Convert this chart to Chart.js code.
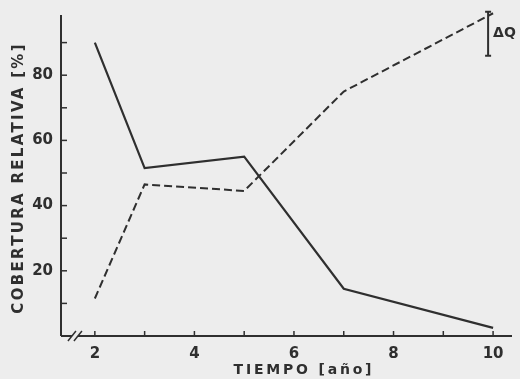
<!DOCTYPE html>
<html>
<head>
<meta charset="utf-8">
<script src="https://cdn.jsdelivr.net/npm/chart.js@4"></script>
<style>
  html, body { margin: 0; padding: 0; background: #ededed; }
  #wrap { width: 520px; height: 379px; position: relative; }
</style>
</head>
<body>
<div id="wrap"><canvas id="chart"></canvas></div>
<script>
const years = [2, 3, 5, 7, 10];
const solidSeries = [90, 51.5, 55, 14.5, 2.5];
const dashedSeries = [11.5, 46.5, 44.5, 75, 99];
const xTicks = [2, 3, 4, 5, 6, 7, 8, 9, 10];
const xTickLabels = ['2', '', '4', '', '6', '', '8', '', '10'];
const yTicks = [10, 20, 30, 40, 50, 60, 70, 80, 90];
const yTickLabels = ['', '20', '', '40', '', '60', '', '80', ''];
const deltaQ = [86, 99.5];
const deltaQLabel = 'ΔQ';
const xTitle = 'TIEMPO [año]';
const yTitle = 'COBERTURA RELATIVA [%]';

const ink = '#2f2f2f';
const bg = '#ededed';

const toPoints = (ys) => years.map((x, i) => ({ x: x, y: ys[i] }));

// axes, inner tick marks, axis break, ΔQ bracket and the spaced axis titles
const axisPlugin = {
  id: 'axisPlugin',
  afterDraw(chart) {
    const ctx = chart.ctx;
    const xs = chart.scales.x;
    const ys = chart.scales.y;
    const left = chart.chartArea.left;
    const bottom = ys.getPixelForValue(0);
    ctx.save();
    ctx.strokeStyle = ink;
    ctx.lineWidth = 2;
    ctx.setLineDash([]);
    // y axis
    ctx.beginPath();
    ctx.moveTo(left, bottom);
    ctx.lineTo(left, ys.getPixelForValue(98.5));
    ctx.stroke();
    // x axis
    ctx.beginPath();
    ctx.moveTo(left, bottom);
    ctx.lineTo(chart.chartArea.right, bottom);
    ctx.stroke();
    // y ticks (inside)
    ctx.lineWidth = 1.5;
    yTicks.forEach(v => {
      const py = ys.getPixelForValue(v);
      ctx.beginPath();
      ctx.moveTo(left, py);
      ctx.lineTo(left + 6, py);
      ctx.stroke();
    });
    // x ticks (inside)
    xTicks.forEach(v => {
      const px = xs.getPixelForValue(v);
      ctx.beginPath();
      ctx.moveTo(px, bottom);
      ctx.lineTo(px, bottom - 5);
      ctx.stroke();
    });
    // axis break
    const bx = xs.getPixelForValue(1.6);
    ctx.fillStyle = bg;
    ctx.fillRect(bx - 3, bottom - 2, 6, 4);
    ctx.lineWidth = 1.5;
    [-3, 3].forEach(d => {
      ctx.beginPath();
      ctx.moveTo(bx + d - 4, bottom + 5);
      ctx.lineTo(bx + d + 4, bottom - 5);
      ctx.stroke();
    });
    // ΔQ bracket
    const qx = xs.getPixelForValue(9.9);
    const q1 = ys.getPixelForValue(deltaQ[1]);
    const q0 = ys.getPixelForValue(deltaQ[0]);
    ctx.lineWidth = 2;
    ctx.beginPath();
    ctx.moveTo(qx, q1); ctx.lineTo(qx, q0);
    ctx.moveTo(qx - 3, q1); ctx.lineTo(qx + 3, q1);
    ctx.moveTo(qx - 3, q0); ctx.lineTo(qx + 3, q0);
    ctx.stroke();
    ctx.fillStyle = ink;
    ctx.font = 'bold 14px "DejaVu Sans"';
    ctx.textAlign = 'left';
    ctx.textBaseline = 'middle';
    ctx.fillText(deltaQLabel, qx + 5, (q0 + q1) / 2);
    // x title
    ctx.letterSpacing = '2.8px';
    ctx.textAlign = 'center';
    ctx.font = 'bold 14px "DejaVu Sans"';
    ctx.fillText(xTitle, xs.getPixelForValue(6.2), 370);
    // y title
    ctx.letterSpacing = '2.3px';
    ctx.font = 'bold 15px "DejaVu Sans"';
    ctx.translate(19, ys.getPixelForValue(48.5));
    ctx.rotate(-Math.PI / 2);
    ctx.fillText(yTitle, 0, 0);
    ctx.restore();
  }
};

new Chart(document.getElementById('chart'), {
  type: 'line',
  data: {
    datasets: [{
      label: 'continua',
      data: toPoints(solidSeries),
      borderColor: ink,
      borderWidth: 2.2,
      pointRadius: 0,
      fill: false,
      tension: 0
    }, {
      label: 'discontinua',
      data: toPoints(dashedSeries),
      borderColor: ink,
      borderWidth: 2,
      borderDash: [8, 4],
      pointRadius: 0,
      fill: false,
      tension: 0
    }]
  },
  options: {
    responsive: true,
    maintainAspectRatio: false,
    animation: false,
    layout: { padding: { top: 10, right: 8, left: 0, bottom: 0 } },
    plugins: {
      legend: { display: false },
      tooltip: { enabled: false }
    },
    scales: {
      x: {
        type: 'linear',
        min: 1.32,
        max: 10.38,
        afterBuildTicks: (scale) => { scale.ticks = xTicks.map(v => ({ value: v })); },
        afterFit: (scale) => {
          scale.height = 43;
          scale.paddingLeft = 0;
          scale.paddingRight = 0;
        },
        border: { display: false },
        grid: { display: false, drawTicks: false },
        ticks: {
          autoSkip: false,
          maxRotation: 0,
          padding: 9,
          color: ink,
          font: { family: 'DejaVu Sans', size: 15, weight: 'bold' },
          callback: (v) => xTickLabels[xTicks.indexOf(v)]
        },
        title: { display: false, text: xTitle }
      },
      y: {
        min: 0,
        max: 100,
        afterBuildTicks: (scale) => { scale.ticks = yTicks.map(v => ({ value: v })); },
        afterFit: (scale) => {
          scale.width = 61;
          scale.paddingTop = 0;
          scale.paddingBottom = 0;
        },
        border: { display: false },
        grid: { display: false, drawTicks: false },
        ticks: {
          autoSkip: false,
          padding: 8,
          color: ink,
          font: { family: 'DejaVu Sans', size: 15, weight: 'bold' },
          callback: (v) => yTickLabels[yTicks.indexOf(v)]
        },
        title: { display: false, text: yTitle }
      }
    }
  },
  plugins: [axisPlugin]
});
</script>
</body>
</html>
